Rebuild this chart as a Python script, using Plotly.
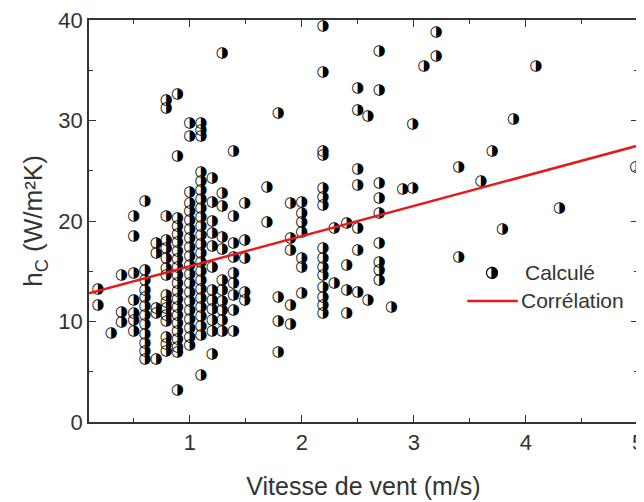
import plotly.graph_objects as go

# Data (wind speed columns and the h_c values in each column)
wind_cols = [0.18, 0.30, 0.39, 0.50, 0.60, 0.70, 0.79, 0.89, 1.00, 1.10, 1.20, 1.29, 1.39,
             1.49, 1.69, 1.79, 1.90, 2.00, 2.19, 2.29, 2.40, 2.50, 2.59, 2.69, 2.80, 2.90,
             2.99, 3.09, 3.20, 3.40, 3.60, 3.70, 3.79, 3.89, 4.09, 4.30, 4.98]
hc_cols = [
    [13.2, 11.6],
    [8.8],
    [14.6, 10.9, 9.9],
    [20.5, 18.5, 14.8, 12.1, 10.8, 10.1, 9.0],
    [22.0, 15.1, 14.1, 13.1, 12.4, 11.5, 10.6, 9.7, 8.7, 7.8, 7.0, 6.2],
    [17.8, 16.8, 11.3, 10.8, 6.2],
    [32.0, 31.2, 20.5, 18.1, 17.3, 16.3, 15.3, 14.6, 12.6, 11.9, 11.3, 10.6, 10.0, 8.4, 7.7, 7.0],
    [32.6, 26.4, 20.3, 19.5, 18.7, 17.9, 17.0, 16.2, 15.4, 14.6, 13.8, 13.0, 12.2, 11.4, 10.6,
     9.8, 9.0, 8.2, 7.4, 6.9, 3.2],
    [29.7, 28.4, 22.9, 21.8, 21.0, 20.1, 19.2, 18.3, 17.4, 16.5, 15.6, 14.7, 13.8, 12.9, 12.0,
     11.1, 10.2, 9.3, 8.4, 7.6],
    [29.7, 29.0, 28.4, 24.9, 24.0, 23.1, 22.2, 21.3, 20.4, 19.5, 18.6, 17.7, 16.8, 15.9, 15.0,
     14.1, 13.2, 12.3, 11.4, 10.5, 9.5, 8.6, 4.7],
    [24.3, 21.9, 20.0, 18.8, 17.5, 15.4, 13.1, 12.1, 11.2, 10.1, 9.0, 6.7],
    [36.7, 22.8, 21.5, 18.4, 17.2, 14.1, 13.1, 12.0, 11.1, 10.1, 9.0],
    [26.9, 20.5, 17.8, 16.4, 14.8, 13.8, 12.6, 11.1, 9.0],
    [21.8, 18.1, 16.3, 12.9, 12.1],
    [23.4, 19.9],
    [30.7, 12.4, 10.0, 6.9],
    [21.8, 18.3, 17.1, 11.6, 9.7],
    [21.9, 20.8, 19.9, 18.9, 16.3, 15.4, 12.8],
    [39.4, 34.8, 26.9, 26.5, 23.3, 22.4, 21.6, 17.3, 16.3, 15.4, 14.6, 13.4, 12.4, 11.6, 10.8],
    [19.3, 13.8],
    [19.8, 15.6, 13.1, 10.8],
    [33.2, 31.0, 25.1, 23.6, 19.3, 17.1, 12.9],
    [30.4, 12.1],
    [36.9, 33.0, 23.8, 22.3, 20.8, 17.8, 15.9, 15.1, 14.1],
    [11.4],
    [23.2],
    [29.6, 23.3],
    [35.4],
    [38.8, 36.4],
    [25.3, 16.4],
    [24.0],
    [26.9],
    [19.2],
    [30.1],
    [35.4],
    [21.3],
    [25.3],
]

# Correlation line parameters (h = a + b * v)
corr_intercept = 12.5
corr_slope = 3.0
corr_x = [0.1, 5.0]

x_ticks = [1, 2, 3, 4, 5]
y_ticks = [0, 10, 20, 30, 40]

wind = []
hc = []
for v, col in zip(wind_cols, hc_cols):
    for h in col:
        wind.append(v)
        hc.append(h)

corr_y = [corr_intercept + corr_slope * v for v in corr_x]

FONT = "Liberation Sans, Arial, sans-serif"
AXC = "#333333"

fig = go.Figure()
fig.add_trace(go.Scatter(
    x=wind, y=hc, mode="text", text=["◑"] * len(wind),
    textposition="middle center",
    textfont=dict(family="DejaVu Sans", size=15, color="black"),
    showlegend=False, hoverinfo="x+y",
))
fig.add_trace(go.Scatter(
    x=corr_x, y=corr_y, mode="lines",
    line=dict(color="#e41a1c", width=2.5),
    showlegend=False,
))

axis_common = dict(
    showline=True, linecolor=AXC, linewidth=1.5, mirror="allticks",
    ticks="inside", ticklen=7, tickwidth=1.3, tickcolor=AXC,
    showgrid=False, zeroline=False, ticklabeloverflow="allow",
    tickfont=dict(family=FONT, size=22, color=AXC),
)

fig.update_layout(
    width=636, height=494,
    margin=dict(l=81, r=6, t=12, b=80, autoexpand=False),
    paper_bgcolor="white", plot_bgcolor="white",
    xaxis=dict(range=[0.1, 5.0], tickvals=x_ticks, ticktext=[str(t) for t in x_ticks],
               minor=dict(dtick=0.5, tick0=0, ticks="inside", ticklen=4, tickcolor=AXC),
               title=dict(text="Vitesse de vent (m/s)", font=dict(family=FONT, size=25, color=AXC),
                          standoff=23),
               automargin=False,
               **axis_common),
    yaxis=dict(range=[0, 40], tickvals=y_ticks, ticktext=[str(t) for t in y_ticks],
               minor=dict(dtick=5, tick0=0, ticks="inside", ticklen=4, tickcolor=AXC),
               title=dict(text="h<sub>C</sub> (W/m²K)", font=dict(family=FONT, size=26, color=AXC),
                          standoff=8),
               automargin=False,
               **axis_common),
)

# Legend drawn in paper coordinates
cx, cy = 0.734, 0.371
rx, ry = 5.5 / 549, 5.5 / 402
k = 0.5523
fig.add_shape(type="circle", xref="paper", yref="paper",
              x0=cx - rx, x1=cx + rx, y0=cy - ry, y1=cy + ry,
              line=dict(color="black", width=1.2), fillcolor="white")
half = (f"M {cx},{cy + ry} "
        f"C {cx + k * rx},{cy + ry} {cx + rx},{cy + k * ry} {cx + rx},{cy} "
        f"C {cx + rx},{cy - k * ry} {cx + k * rx},{cy - ry} {cx},{cy - ry} Z")
fig.add_shape(type="path", xref="paper", yref="paper", path=half,
              line=dict(color="black", width=1.2), fillcolor="black")
fig.add_annotation(xref="paper", yref="paper", x=0.790, y=0.371, text="Calculé", showarrow=False,
                   xanchor="left", yanchor="middle", font=dict(family=FONT, size=21, color=AXC))
fig.add_shape(type="line", xref="paper", yref="paper", x0=0.689, x1=0.781, y0=0.301, y1=0.301,
              line=dict(color="#e41a1c", width=2.5))
fig.add_annotation(xref="paper", yref="paper", x=0.783, y=0.301, text="Corrélation", showarrow=False,
                   xanchor="left", yanchor="middle", font=dict(family=FONT, size=21, color=AXC))

fig.write_html("out.html")
